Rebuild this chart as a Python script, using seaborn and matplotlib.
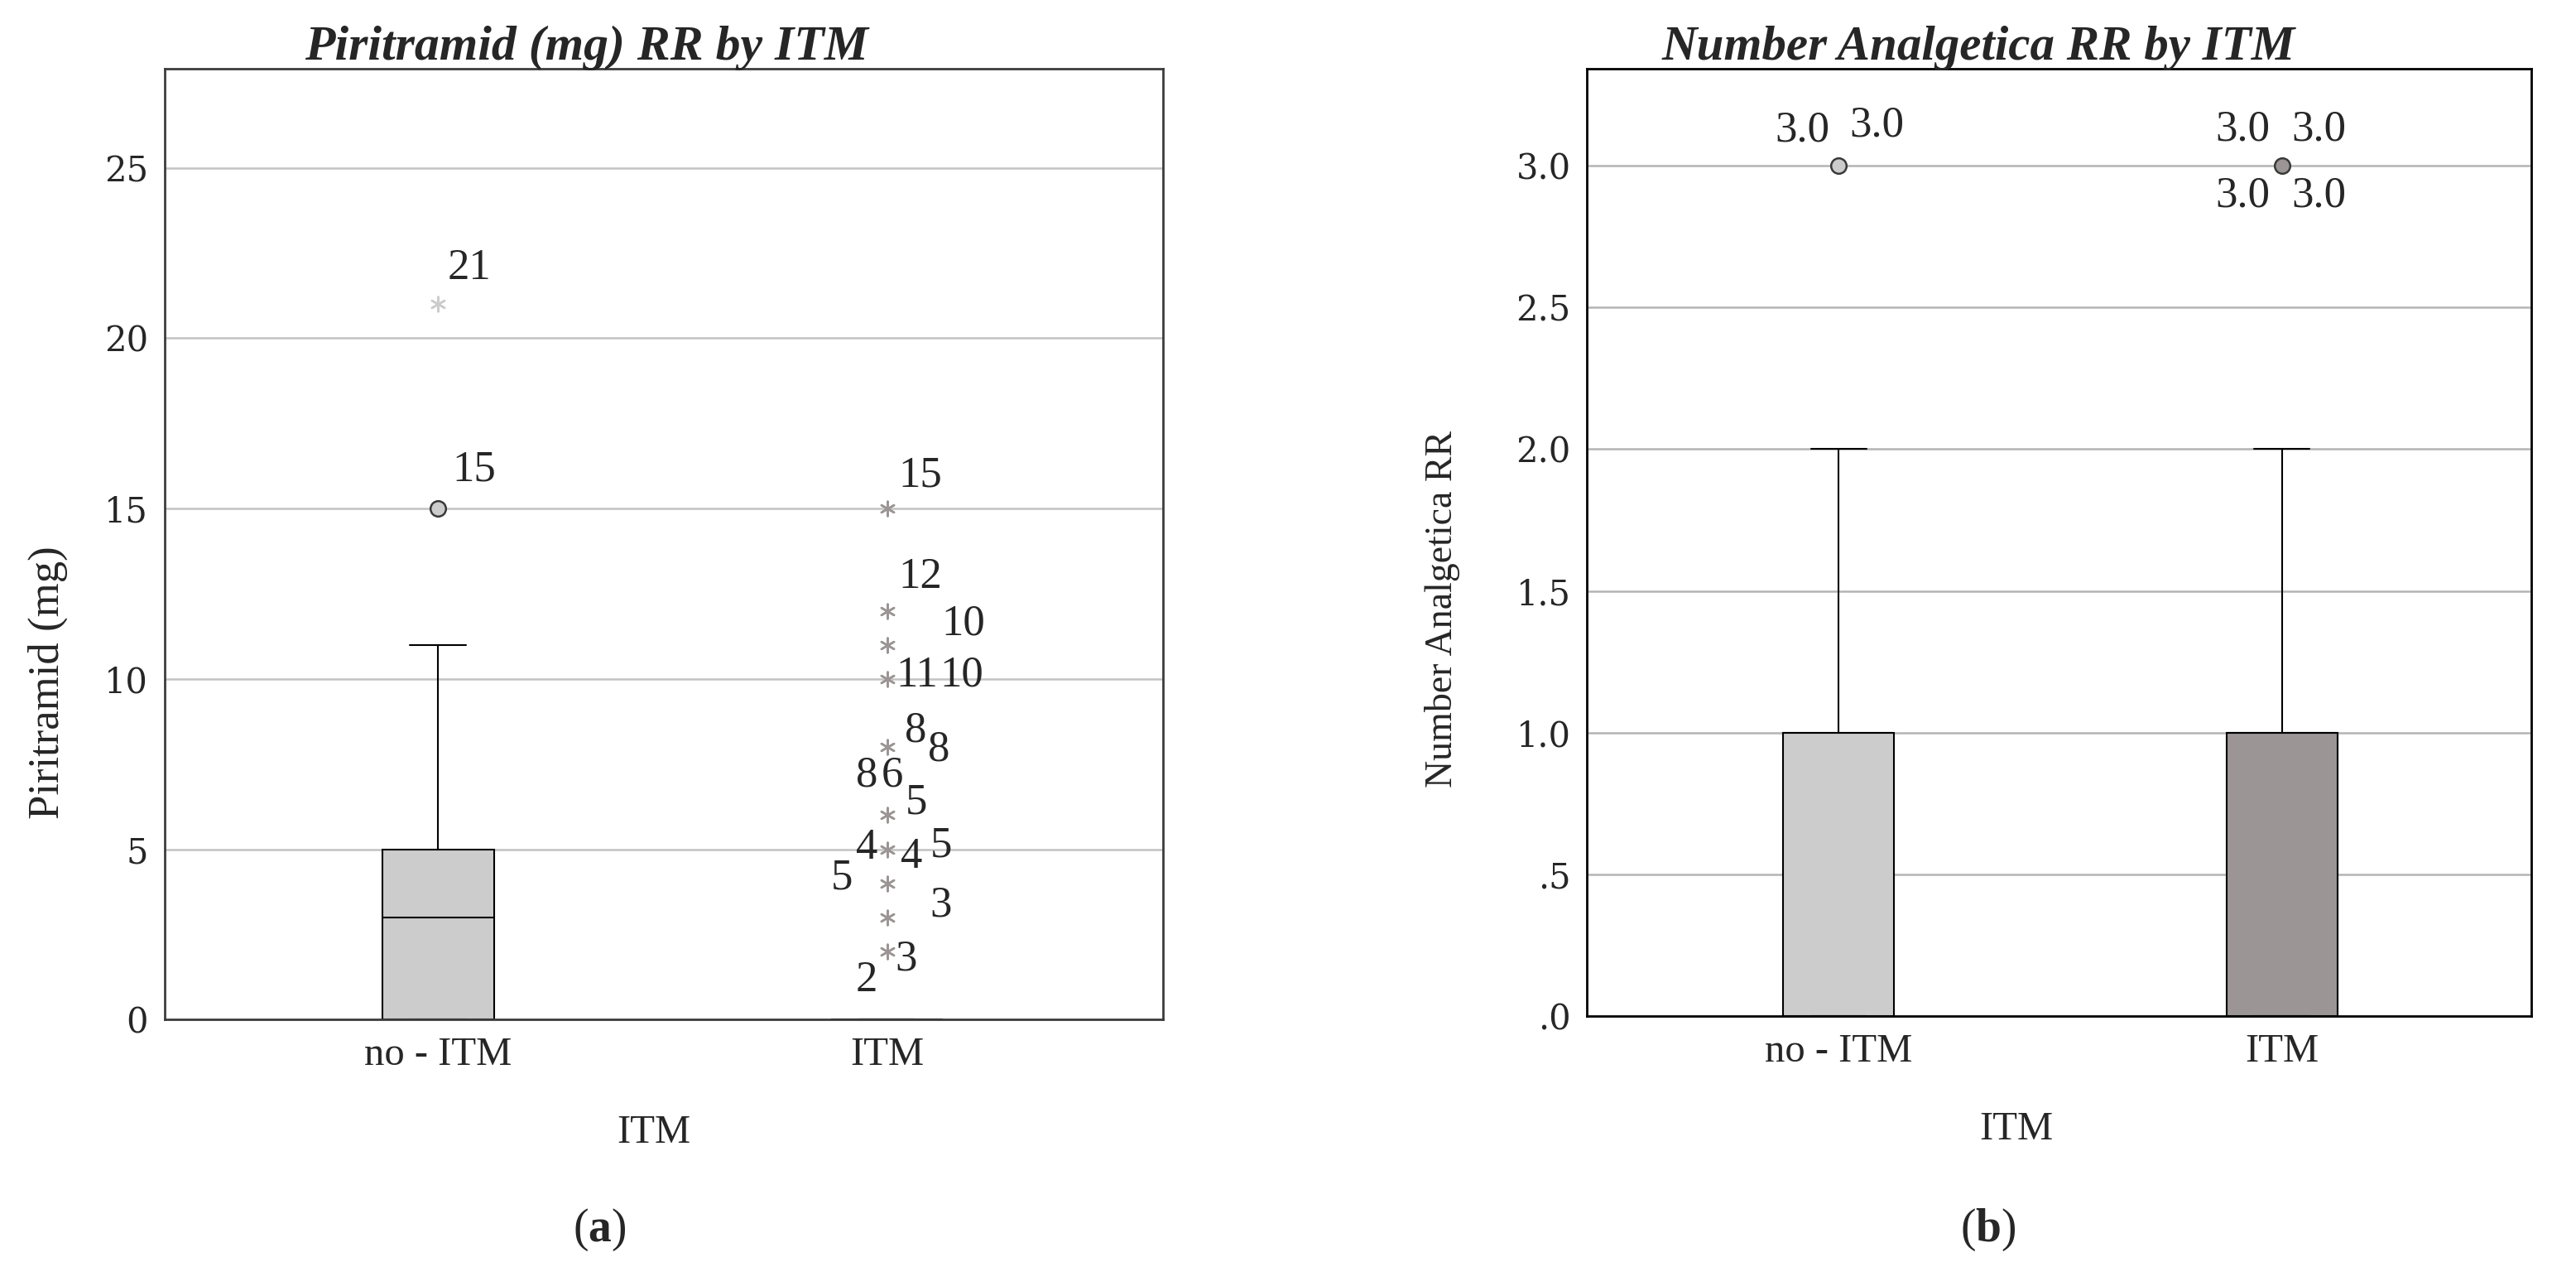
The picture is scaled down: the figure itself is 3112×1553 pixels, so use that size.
import numpy as np
import pandas as pd
import matplotlib
matplotlib.use('Agg')
import matplotlib.pyplot as plt
from matplotlib.ticker import FuncFormatter
import seaborn as sns

# ── Data ──────────────────────────────────────────────────────────────
groups       = ['no - ITM', 'ITM']
group_colors = ['#cccccc', '#9b9595']

# Piritramid (mg) RR : value -> number of patients
piri_noitm_values = [0, 1, 2, 3, 4, 5, 8, 11, 15, 21]
piri_noitm_counts = [5, 1, 2, 2, 2, 1, 1, 1, 1, 1]
piri_itm_values   = [0, 2, 3, 4, 5, 6, 8, 10, 11, 12, 15]
piri_itm_counts   = [60, 1, 2, 2, 3, 1, 3, 2, 1, 1, 1]

# Number Analgetica RR : value -> number of patients
analg_noitm_values = [0, 1, 2, 3]
analg_noitm_counts = [8, 7, 2, 2]
analg_itm_values   = [0, 1, 2, 3]
analg_itm_counts   = [10, 10, 2, 4]

# outlier case labels (group index, outlier value, text)
piri_label_group = [0, 0] + [1] * 17
piri_label_value = [21, 15, 15, 12, 11, 10, 10, 8, 8, 6, 6, 6, 5, 5, 5, 4, 3, 2, 2]
piri_label_text  = ['21', '15', '15', '12', '10', '11', '10', '8', '8', '8',
                    '6', '5', '4', '4', '5', '5', '3', '3', '2']
analg_label_group = [0, 0, 1, 1, 1, 1]
analg_label_value = [3, 3, 3, 3, 3, 3]
analg_label_text  = ['3.0'] * 6

# label offsets from their outlier, in pixels
piri_label_offset = [(38, 43), (43, 47), (40, 40), (40, 41), (92, 25), (36, 4),
                     (90, 4), (35, 20), (63, -3), (-24, 48), (6, 48), (35, 15),
                     (-24, 2), (30, -9), (65, 4), (-55, 6), (65, 14), (23, -10),
                     (-25, -35)]
analg_label_offset = [(-44, 42), (46, 48), (-48, 43), (44, 43), (-48, -37), (44, -37)]


def long_table(noitm_values, noitm_counts, itm_values, itm_counts):
    vals = np.concatenate([np.repeat(noitm_values, noitm_counts),
                           np.repeat(itm_values, itm_counts)])
    grp = [groups[0]] * sum(noitm_counts) + [groups[1]] * sum(itm_counts)
    return pd.DataFrame({'group': grp, 'value': vals.astype(float)})


piri_df  = long_table(piri_noitm_values, piri_noitm_counts,
                      piri_itm_values, piri_itm_counts)
analg_df = long_table(analg_noitm_values, analg_noitm_counts,
                      analg_itm_values, analg_itm_counts)

# ── Style ─────────────────────────────────────────────────────────────
sns.set_style('white')
plt.rcParams['font.family'] = ['Liberation Serif', 'DejaVu Serif']
plt.rcParams['mathtext.fontset'] = 'custom'
plt.rcParams['mathtext.rm'] = 'Liberation Serif'
plt.rcParams['mathtext.bf'] = 'Liberation Serif:bold'

fig = plt.figure(figsize=(31.12, 15.53), dpi=100)
ax_a = fig.add_axes([0.0638, 0.2072, 0.3877, 0.7391])
ax_b = fig.add_axes([0.6161, 0.2097, 0.3667, 0.7366])


def draw_panel(ax, df, spine_color, grid_color):
    sns.boxplot(data=df, x='group', y='value', hue='group',
                order=groups, hue_order=groups, palette=group_colors,
                saturation=1, legend=False, width=0.25, showfliers=False,
                linecolor='black', linewidth=1.5, ax=ax)

    # SPSS style outliers: circle beyond 1.5 IQR, asterisk beyond 3 IQR
    for i, g in enumerate(groups):
        v = df.loc[df['group'] == g, 'value'].to_numpy()
        q1, q3 = np.percentile(v, [25, 75])
        iqr = q3 - q1
        out = np.unique(v[(v > q3 + 1.5 * iqr) | (v < q1 - 1.5 * iqr)])
        far = (out > q3 + 3 * iqr) | (out < q1 - 3 * iqr)
        ax.scatter(np.full(far.sum(), i), out[far], marker=(6, 2, 0),
                   s=160, linewidths=1.8, color=group_colors[i], zorder=4)
        ax.scatter(np.full((~far).sum(), i), out[~far], marker='o',
                   s=180, facecolor=group_colors[i], edgecolor='#3a3a3a',
                   linewidths=1.8, zorder=4)

    ax.yaxis.grid(True, color=grid_color, linewidth=1.8)
    ax.set_axisbelow(True)
    for side in ['left', 'right', 'top', 'bottom']:
        ax.spines[side].set_visible(True)
        ax.spines[side].set_color(spine_color)
        ax.spines[side].set_linewidth(2)
    ax.tick_params(axis='both', length=0)
    ax.tick_params(axis='y', labelsize=30, pad=14,
                   labelfontfamily='DejaVu Serif')
    ax.tick_params(axis='x', labelsize=35, pad=15)


# ── (a) Piritramid ────────────────────────────────────────────────────
draw_panel(ax_a, piri_df, '#3c3c3c', '#c2c2c2')
ax_a.set_xlim(-0.61, 1.615)
ax_a.set_ylim(0, 27.9)
ax_a.set_yticks([0, 5, 10, 15, 20, 25])
ax_a.set_title('Piritramid (mg) RR by ITM', x=0.423, pad=8,
               fontsize=43, fontweight='bold', fontstyle='italic')
ax_a.set_ylabel('Piritramid (mg)', fontsize=38, va='center')
ax_a.yaxis.set_label_coords(-0.117, 0.355)
ax_a.set_xlabel('ITM', fontsize=35, va='top')
ax_a.xaxis.set_label_coords(0.49, -0.1)

for g, v, t, (dx, dy) in zip(piri_label_group, piri_label_value,
                             piri_label_text, piri_label_offset):
    ax_a.annotate(t, xy=(g, v), xytext=(dx, dy), textcoords='offset pixels',
                  ha='center', va='center', fontsize=38, zorder=5)

# ── (b) Number Analgetica ─────────────────────────────────────────────
draw_panel(ax_b, analg_df, 'black', '#b4b4b4')
ax_b.set_xlim(-0.567, 1.563)
ax_b.set_ylim(0, 3.34)
ax_b.set_yticks([0, 0.5, 1.0, 1.5, 2.0, 2.5, 3.0])
ax_b.yaxis.set_major_formatter(
    FuncFormatter(lambda v, p: f'{v:.1f}'.removeprefix('0')))
ax_b.set_title('Number Analgetica RR by ITM', x=0.414, pad=8,
               fontsize=42.5, fontweight='bold', fontstyle='italic')
ax_b.set_ylabel('Number Analgetica RR', fontsize=33, va='center')
ax_b.yaxis.set_label_coords(-0.153, 0.43)
ax_b.set_xlabel('ITM', fontsize=35, va='top')
ax_b.xaxis.set_label_coords(0.454, -0.1)

for g, v, t, (dx, dy) in zip(analg_label_group, analg_label_value,
                             analg_label_text, analg_label_offset):
    ax_b.annotate(t, xy=(g, v), xytext=(dx, dy), textcoords='offset pixels',
                  ha='center', va='center', fontsize=38, zorder=5)

# ── Panel captions ────────────────────────────────────────────────────
fig.text(0.2328, 0.0435, r'($\mathbf{a}$)', ha='center', va='center', fontsize=40)
fig.text(0.7717, 0.0435, r'($\mathbf{b}$)', ha='center', va='center', fontsize=40)

fig.savefig('out.png', dpi=100)
plt.close(fig)
